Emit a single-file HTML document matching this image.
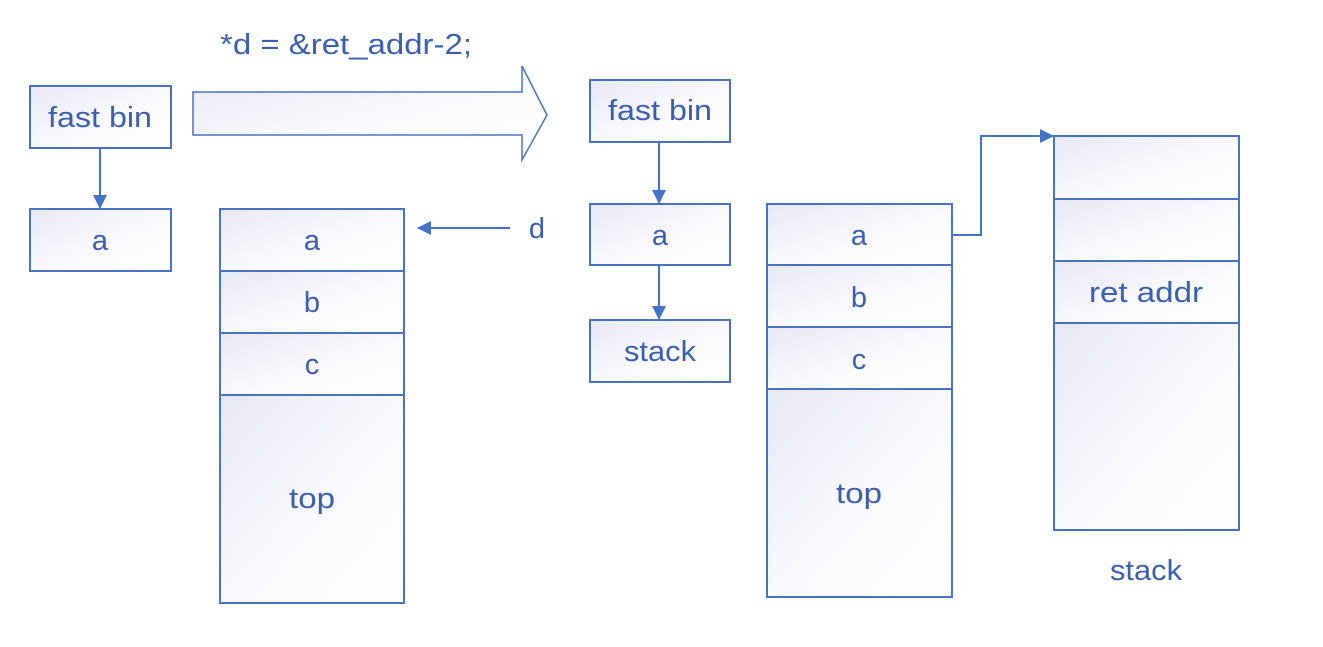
<!DOCTYPE html>
<html><head><meta charset="utf-8"><style>
html,body{margin:0;padding:0;background:#fff;}
svg{display:block;}
text{font-family:"Liberation Sans",sans-serif;fill:#3B5EAD;}
</style></head><body>
<svg width="1323" height="647" viewBox="0 0 1323 647" xmlns="http://www.w3.org/2000/svg">
<defs>
<linearGradient id="g" x1="0" y1="0" x2="1" y2="1">
<stop offset="0" stop-color="#E6E8F4"/><stop offset="0.6" stop-color="#FBFBFE"/><stop offset="1" stop-color="#ffffff"/>
</linearGradient>
<marker id="ah2" markerWidth="14" markerHeight="14" refX="13" refY="7" orient="auto" markerUnits="userSpaceOnUse">
<path d="M0,0 L14,7 L0,14 z" fill="#4472C4"/>
</marker>
</defs>
<g stroke="#4A72C2" stroke-width="2" fill="url(#g)">
<rect x="30" y="86" width="141" height="62"/>
<rect x="30" y="209" width="141" height="62"/>
<rect x="220" y="209" width="184" height="62"/>
<rect x="220" y="271" width="184" height="62"/>
<rect x="220" y="333" width="184" height="62"/>
<rect x="220" y="395" width="184" height="208"/>
<path d="M193,92 L522,92 L522,66 L547,115 L522,160 L522,135 L193,135 Z" stroke-width="1.5"/>
<rect x="590" y="80" width="140" height="62"/>
<rect x="590" y="204" width="140" height="61"/>
<rect x="590" y="320" width="140" height="62"/>
<rect x="767" y="204" width="185" height="61"/>
<rect x="767" y="265" width="185" height="62"/>
<rect x="767" y="327" width="185" height="62"/>
<rect x="767" y="389" width="185" height="208"/>
<rect x="1054" y="136" width="185" height="63"/>
<rect x="1054" y="199" width="185" height="62"/>
<rect x="1054" y="261" width="185" height="62"/>
<rect x="1054" y="323" width="185" height="207"/>
</g>
<g stroke="#4472C4" stroke-width="2" fill="none">
<line x1="100" y1="148" x2="100" y2="208" marker-end="url(#ah2)"/>
<line x1="510" y1="228" x2="418" y2="228" marker-end="url(#ah2)"/>
<line x1="659" y1="142" x2="659" y2="203" marker-end="url(#ah2)"/>
<line x1="659" y1="265" x2="659" y2="319" marker-end="url(#ah2)"/>
<polyline points="952,235 981,235 981,136 1053,136" marker-end="url(#ah2)"/>
</g>
<g font-size="29" text-anchor="middle">
<text x="100" y="127" textLength="104" lengthAdjust="spacingAndGlyphs">fast bin</text>
<text x="100" y="250">a</text>
<text x="312" y="250">a</text>
<text x="312" y="312">b</text>
<text x="312" y="374">c</text>
<text x="312" y="508" textLength="46" lengthAdjust="spacingAndGlyphs">top</text>
<text x="537" y="238">d</text>
<text x="660" y="120" textLength="104" lengthAdjust="spacingAndGlyphs">fast bin</text>
<text x="660" y="245">a</text>
<text x="660" y="361" textLength="72" lengthAdjust="spacingAndGlyphs">stack</text>
<text x="859" y="245">a</text>
<text x="859" y="307">b</text>
<text x="859" y="369">c</text>
<text x="859" y="503" textLength="46" lengthAdjust="spacingAndGlyphs">top</text>
<text x="1146" y="302" textLength="114" lengthAdjust="spacingAndGlyphs">ret addr</text>
<text x="1146" y="580" textLength="72" lengthAdjust="spacingAndGlyphs">stack</text>
</g>
<text x="220" y="54" font-size="29" textLength="252" lengthAdjust="spacingAndGlyphs">*d = &amp;ret_addr-2;</text>
</svg>
</body></html>
